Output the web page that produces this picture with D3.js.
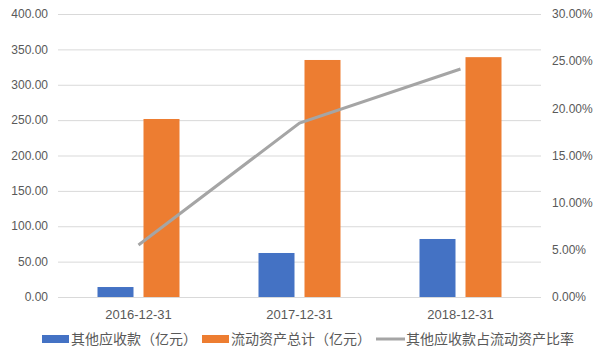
<!DOCTYPE html>
<meta charset="utf-8">
<style>
body { margin: 0; background: #fff; }
text { font-family: "Noto Sans CJK SC", "Liberation Sans", sans-serif; fill: #595959; }
.grid line { stroke: #d9d9d9; stroke-width: 1; }
</style>
<svg width="598" height="353"></svg>
<script src="https://d3js.org/d3.v7.min.js"></script>
<script>
// 数据
var dates = ['2016-12-31', '2017-12-31', '2018-12-31'];
var otherRecv = [14.1, 62.2, 82.0];        // 其他应收款（亿元）
var curAssets = [251.6, 335.0, 339.0];     // 流动资产总计（亿元）
var ratio = [0.0551, 0.1844, 0.2417];      // 其他应收款占流动资产比率
var leftTicks = [0, 50, 100, 150, 200, 250, 300, 350, 400];
var rightTicks = [0, 0.05, 0.10, 0.15, 0.20, 0.25, 0.30];
var names = ['其他应收款（亿元）', '流动资产总计（亿元）', '其他应收款占流动资产比率'];

var svg = d3.select('svg');
var margin = { top: 14, left: 58, right: 57, bottom: 56 };
var width = +svg.attr('width') - margin.left - margin.right;
var height = +svg.attr('height') - margin.top - margin.bottom;
var g = svg.append('g')
  .attr('transform', `translate(${margin.left}, ${margin.top})`);

var x = d3.scaleBand().domain(dates).range([0, width]);
var y = d3.scaleLinear().domain([0, 400]).range([height, 0]);
var y2 = d3.scaleLinear().domain([0, 0.30]).range([height, 0]);

// 网格线
g.append('g').attr('class', 'grid')
  .selectAll('line').data(leftTicks).enter().append('line')
  .attr('x1', 0).attr('x2', width)
  .attr('y1', d => y(d) + 0.5).attr('y2', d => y(d) + 0.5);

// 左轴
g.append('g').selectAll('text').data(leftTicks).enter().append('text')
  .attr('x', -10).attr('y', d => y(d)).attr('dy', '0.35em')
  .attr('text-anchor', 'end').style('font-size', '12px')
  .style('font-family', '"Liberation Sans", sans-serif')
  .text(d => d3.format('.2f')(d));

// 右轴
g.append('g').selectAll('text').data(rightTicks).enter().append('text')
  .attr('x', width + 11).attr('y', d => y2(d)).attr('dy', '0.35em')
  .attr('text-anchor', 'start').style('font-size', '12px')
  .style('font-family', '"Liberation Sans", sans-serif')
  .text(d => d3.format('.2%')(d));

// X轴标签
g.append('g').selectAll('text').data(dates).enter().append('text')
  .attr('x', d => x(d) + x.bandwidth() / 2).attr('y', height + 17)
  .attr('dy', '0.35em').attr('text-anchor', 'middle')
  .style('font-size', '13px')
  .style('font-family', '"Liberation Sans", sans-serif')
  .text(d => d);

var barW = 36, gap = 5;
g.selectAll('.bar1').data(dates).enter().append('rect')
  .attr('fill', '#4472c4')
  .attr('x', d => x(d) + x.bandwidth() / 2 - gap - barW)
  .attr('y', (d, i) => y(otherRecv[i]))
  .attr('width', barW)
  .attr('height', (d, i) => height - y(otherRecv[i]));

g.selectAll('.bar2').data(dates).enter().append('rect')
  .attr('fill', '#ed7d31')
  .attr('x', d => x(d) + x.bandwidth() / 2 + gap)
  .attr('y', (d, i) => y(curAssets[i]))
  .attr('width', barW)
  .attr('height', (d, i) => height - y(curAssets[i]));

var line = d3.line()
  .x((d, i) => x(dates[i]) + x.bandwidth() / 2)
  .y(d => y2(d));
g.append('path').datum(ratio)
  .attr('fill', 'none').attr('stroke', '#a5a5a5')
  .attr('stroke-width', 3).attr('d', line);

// 图例
var ly = 339;
var leg = svg.append('g');
leg.append('rect').attr('x', 42).attr('y', ly - 4).attr('width', 27).attr('height', 8).attr('fill', '#4472c4');
leg.append('text').attr('x', 71).attr('y', ly).attr('dy', '0.35em').style('font-size', '14px').text(names[0]);
leg.append('rect').attr('x', 202).attr('y', ly - 4).attr('width', 27).attr('height', 8).attr('fill', '#ed7d31');
leg.append('text').attr('x', 231).attr('y', ly).attr('dy', '0.35em').style('font-size', '14px').text(names[1]);
leg.append('line').attr('x1', 376).attr('x2', 405).attr('y1', ly).attr('y2', ly)
  .attr('stroke', '#a5a5a5').attr('stroke-width', 3);
leg.append('text').attr('x', 406).attr('y', ly).attr('dy', '0.35em').style('font-size', '14px').text(names[2]);
</script>
